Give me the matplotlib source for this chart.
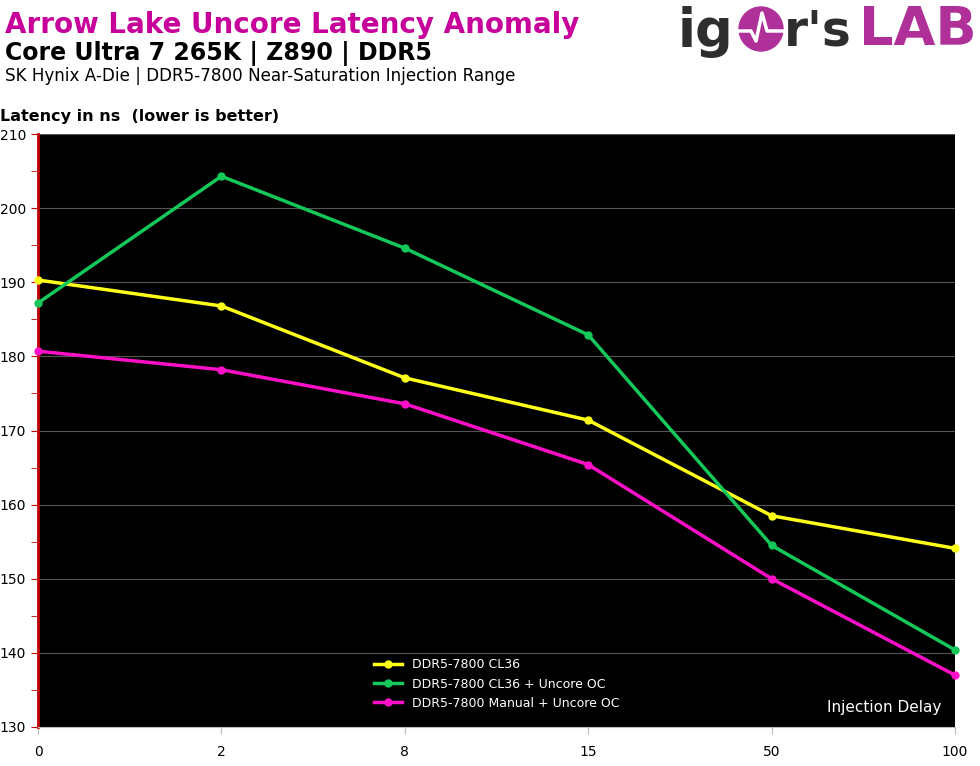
import matplotlib
matplotlib.use("Agg")
import matplotlib.pyplot as plt
from matplotlib.patches import Ellipse
from matplotlib.lines import Line2D

delays = ["0", "2", "8", "15", "50", "100"]
cl36 = [190.3, 186.8, 177.1, 171.4, 158.5, 154.1]
cl36_uncore = [187.2, 204.3, 194.6, 182.9, 154.5, 140.4]
manual_uncore = [180.7, 178.2, 173.6, 165.4, 150.0, 137.0]

series = [
    ("DDR5-7800 CL36", cl36, "#ffff1a"),
    ("DDR5-7800 CL36 + Uncore OC", cl36_uncore, "#14c85a"),
    ("DDR5-7800 Manual + Uncore OC", manual_uncore, "#ff10c8"),
]

fig = plt.figure(figsize=(9.8, 7.66), dpi=100)
ax = fig.add_axes([38 / 980, 39 / 766, 917 / 980, 593 / 766])
ax.set_facecolor("black")

x = list(range(len(delays)))
for name, vals, col in series:
    ax.plot(x, vals, color=col, lw=2.5, marker="o", ms=5, label=name, clip_on=False, zorder=3)

ax.set_xlim(0, len(delays) - 1)
ax.set_ylim(130, 210)
ax.set_xticks(x)
ax.set_xticklabels(delays)
ax.set_yticks(range(130, 211, 10))
ax.set_yticks(range(135, 210, 10), minor=True)
ax.grid(axis="y", color="#555555", lw=0.8)
ax.set_axisbelow(True)

for s in ["top", "right"]:
    ax.spines[s].set_visible(False)
ax.spines["left"].set_color("#c00000")
ax.spines["left"].set_linewidth(2)
ax.spines["bottom"].set_color("#bbbbbb")
ax.tick_params(axis="y", which="both", colors="#c00000", labelcolor="black", labelsize=10, length=5)
ax.tick_params(axis="x", colors="#bbbbbb", labelcolor="black", labelsize=10, length=5, pad=8)

leg = ax.legend(loc="lower center", bbox_to_anchor=(0.5, 0.01), frameon=False,
                fontsize=9, labelcolor="white", handlelength=2.2)
ax.text(0.985, 0.02, "Injection Delay", color="white", fontsize=11,
        transform=ax.transAxes, ha="right", va="bottom")

# headings
fig.text(5 / 980, 1 - 25 / 766, "Arrow Lake Uncore Latency Anomaly", color="#c8009b",
         fontsize=20, fontweight="bold", va="center")
fig.text(5 / 980, 1 - 53 / 766, "Core Ultra 7 265K | Z890 | DDR5", color="black",
         fontsize=17, fontweight="bold", va="center")
fig.text(5 / 980, 1 - 76 / 766, "SK Hynix A-Die | DDR5-7800 Near-Saturation Injection Range",
         color="black", fontsize=12.1, va="center")
fig.text(0, 1 - 116 / 766, "Latency in ns  (lower is better)", color="black",
         fontsize=11.5, fontweight="bold", va="center")

# logo
dark = "#2e2e2e"
pink = "#b0309a"
fig.text(678 / 980, 1 - 32 / 766, "ig", color=dark, fontsize=38, fontweight="heavy", va="center")
cx, cy = 761, 29
fig.add_artist(Ellipse((cx / 980, 1 - cy / 766), 44 / 980, 44 / 766,
                       transform=fig.transFigure, color=pink))
px = [cx - 22, cx - 10, cx - 5, cx + 1, cx + 6, cx + 22]
py = [cy + 2, cy + 2, cy + 12, cy - 16, cy + 2, cy + 2]
fig.add_artist(Line2D([p / 980 for p in px], [1 - p / 766 for p in py],
                      transform=fig.transFigure, color="white", lw=2.5))
fig.text(784 / 980, 1 - 32 / 766, "r's", color=dark, fontsize=35, fontweight="heavy", va="center")
fig.text(977 / 980, 1 - 30 / 766, "LAB", color=pink, fontsize=39, fontweight="heavy",
         va="center", ha="right")

fig.savefig("out.png", dpi=100)
